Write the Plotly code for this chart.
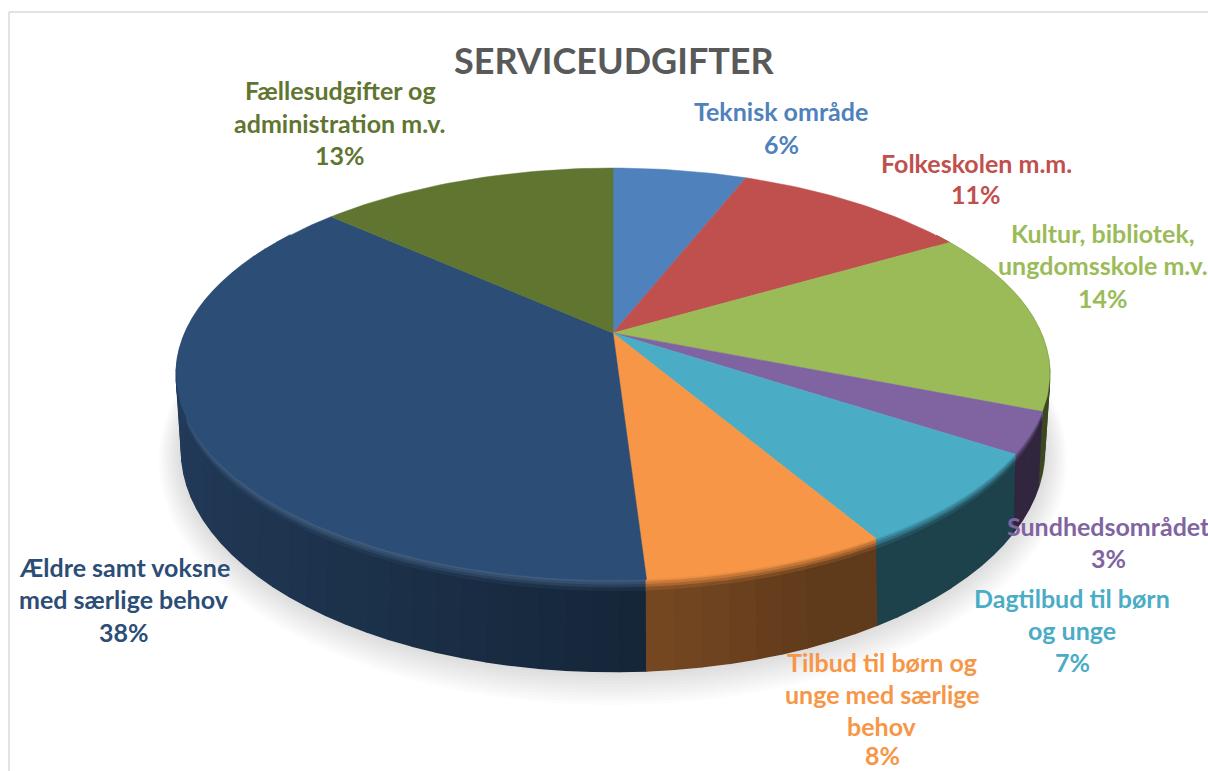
import math
import numpy as np
import plotly.graph_objects as go

categories = ["Teknisk område", "Folkeskolen m.m.", "Kultur, bibliotek, ungdomsskole m.v.",
              "Sundhedsområdet", "Dagtilbud til børn og unge",
              "Tilbud til børn og unge med særlige behov",
              "Ældre samt voksne med særlige behov", "Fællesudgifter og administration m.v."]
values = [6, 10.6, 14.4, 3.2, 7.3, 7.5, 37.6, 13.4]
percent_labels = ["6%", "11%", "14%", "3%", "7%", "8%", "38%", "13%"]
colors = ["#4F81BD", "#C0504D", "#9BBB59", "#8064A2", "#4BACC6", "#F79646", "#2C4D75", "#5F7530"]
label_lines = [
    ["Teknisk område"], ["Folkeskolen m.m."], ["Kultur, bibliotek,", "ungdomsskole m.v."],
    ["Sundhedsområdet"], ["Dagtilbud til børn", "og unge"],
    ["Tilbud til børn og", "unge med særlige", "behov"],
    ["Ældre samt voksne", "med særlige behov"], ["Fællesudgifter og", "administration m.v."],
]
label_x = [781, 976, 1103, 1108, 1072, 882, 124, 340]
label_y = [[111, 144], [163, 194], [233, 265, 298], [526, 558], [598, 630, 662],
           [662, 694, 726, 755], [567, 599, 632], [90, 123, 155]]
title_text = "SERVICEUDGIFTER"

FONT = "Lato"
CX = 613
TOP = dict(ay=333, a=428, b=197.8, k=0.199)
BOT = dict(ay=401, a=421, b=211, k=0.22)


def proj(t, g):
    u, v = np.sin(t), -np.cos(t)
    w = 1 - g["k"] * v
    return CX + g["a"] * u / w, g["ay"] + g["b"] * v / w


def rgb(h):
    return tuple(int(h[i:i + 2], 16) for i in (1, 3, 5))


def mix(a, b, f):
    return tuple(a[i] + (b[i] - a[i]) * f for i in range(3))


def css(c):
    return "rgb(%d,%d,%d)" % tuple(round(x) for x in c)


def side_factor(u):
    return 0.52 - 0.28 * u if u < 0 else max(0.40, 0.52 - 0.30 * u)


fig = go.Figure()


def poly(x, y, fill, line=None, lw=1):
    fig.add_trace(go.Scatter(x=list(x), y=list(y), mode="lines", fill="toself", fillcolor=fill,
                             line=dict(color=line or fill, width=lw), hoverinfo="skip",
                             showlegend=False))


# soft drop shadow under the pie
tt = np.linspace(0, 2 * math.pi, 241)
for d in range(22, 0, -2):
    xs = CX + (432 + d) * np.cos(tt)
    ys = 450 + d * 0.5 + (222 + d) * np.sin(tt)
    poly(xs, ys, "rgba(40,50,60,0.017)", "rgba(0,0,0,0)", 0)

edges = np.cumsum([0] + values) / sum(values) * 2 * math.pi

# pie wall: a soft blend just below the rim, then the plain wall
bands = [0, 0.03, 0.06, 0.09, 0.13, 1]
order = sorted(range(len(values)), key=lambda i: -math.cos((edges[i] + edges[i + 1]) / 2))
for i in order:
    base = rgb(colors[i])
    n = max(2, int(values[i] / 0.8))
    seg = np.linspace(edges[i], edges[i + 1], n + 1)
    for b in range(len(bands) - 1):
        for j in range(n):
            ts = np.linspace(seg[j], seg[j + 1], 6)
            mid = (seg[j] + seg[j + 1]) / 2
            if math.cos(mid) > 0.55:
                continue
            sf = side_factor(math.sin(mid))
            s0, s1 = bands[b], bands[b + 1]
            xt, yt = proj(ts, TOP)
            xb, yb = proj(ts, BOT)
            x0, y0 = xt + (xb - xt) * s0, yt + (yb - yt) * s0
            x1, y1 = xt + (xb - xt) * s1, yt + (yb - yt) * s1
            sm = (s0 + s1) / 2
            wall = mix((0, 0, 0), base, sf * 0.96)
            rim = mix(base, (255, 255, 255), 0.12) if i == 6 else base
            col = wall if s1 == 1 else mix(rim, wall, min(1, sm / 0.13))
            poly(np.r_[x0, x1[::-1]], np.r_[y0, y1[::-1]], css(col), lw=1.6)

# pie top
for i in range(len(values)):
    ts = np.linspace(edges[i], edges[i + 1], max(8, int(values[i] * 3)))
    xt, yt = proj(ts, TOP)
    poly(np.r_[CX, xt, CX], np.r_[TOP["ay"], yt, TOP["ay"]], colors[i], lw=0.5)

annotations = []
for i in range(len(values)):
    lines = label_lines[i] + [percent_labels[i]]
    for txt, y in zip(lines, label_y[i]):
        annotations.append(dict(x=label_x[i], y=y, xref="x", yref="y", text="<b>%s</b>" % txt, showarrow=False,
                                xanchor="center", yanchor="middle",
                                font=dict(family=FONT, size=25, color=colors[i])))
annotations.append(dict(x=614, y=60, xref="x", yref="y", text="<b>%s</b>" % title_text, showarrow=False,
                        xanchor="center", yanchor="middle",
                        font=dict(family=FONT, size=36, color="#595959")))

fig.update_layout(
    width=1208, height=771, margin=dict(l=0, r=0, t=0, b=0), autosize=False,
    paper_bgcolor="white", plot_bgcolor="white", showlegend=False,
    xaxis=dict(range=[0, 1208], visible=False, fixedrange=True),
    yaxis=dict(range=[771, 0], visible=False, fixedrange=True),
    annotations=annotations,
    shapes=[
        dict(type="line", x0=9, x1=9, y0=12, y1=771, line=dict(color="#D9D9D9", width=1.5), layer="below"),
        dict(type="line", x0=9, x1=1208, y0=12, y1=12, line=dict(color="#D9D9D9", width=1.5), layer="below"),
    ],
)
fig.write_html("out.html", config=dict(displayModeBar=False),
               post_script="document.body.style.margin='0';document.body.style.overflow='hidden';")
